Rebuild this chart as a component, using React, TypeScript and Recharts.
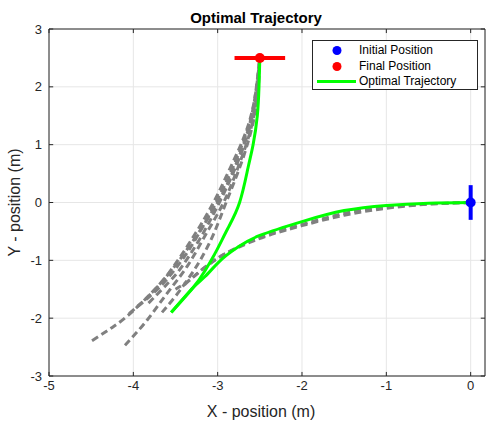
import React from 'react';
import {
  ComposedChart,
  Line,
  Scatter,
  XAxis,
  YAxis,
  CartesianGrid,
  ReferenceLine,
  Legend,
  Label,
} from 'recharts';

type Pt = [number, number];

// axis setup
const X_TICKS = [-5, -4, -3, -2, -1, 0];
const Y_TICKS = [-3, -2, -1, 0, 1, 2, 3];
const X_MIN = -5;
const X_MAX = 0.17;
const Y_MIN = -3;
const Y_MAX = 3;

// start / goal poses
const START: Pt = [0, 0];
const GOAL: Pt = [-2.5, 2.5];
const START_HEADING: Pt[] = [[0, -0.3], [0, 0.3]];
const GOAL_HEADING: Pt[] = [[-2.8, 2.5], [-2.2, 2.5]];

// optimal path: reverse out to the cusp...
const OPTIMAL_REV: Pt[] = [
  [0, 0], [-0.5, -0.012], [-1, -0.05], [-1.5, -0.14], [-2, -0.33], [-2.5, -0.57],
  [-2.75, -0.76], [-2.95, -0.98], [-3.15, -1.28], [-3.29, -1.47], [-3.55, -1.9],
];
// ...then drive forward to the goal
const OPTIMAL_FWD: Pt[] = [
  [-3.55, -1.9], [-3.29, -1.47], [-3.15, -1.18], [-3.02, -0.85], [-2.88, -0.45],
  [-2.74, 0.0], [-2.64, 0.6], [-2.58, 1.0], [-2.53, 1.5], [-2.51, 2.0], [-2.5, 2.5],
];

// earlier iterations (reverse leg)
const ITER_REV_1: Pt[] = [
  [0, 0], [-0.5, -0.025], [-1, -0.08], [-1.5, -0.19], [-2, -0.38], [-2.5, -0.6],
  [-2.8, -0.8], [-3.02, -0.98], [-3.2, -1.18], [-3.35, -1.36], [-3.5, -1.5],
];
const ITER_REV_2: Pt[] = [
  [0, 0], [-0.5, -0.03], [-1, -0.1], [-1.5, -0.22], [-2, -0.4], [-2.4, -0.57],
  [-2.7, -0.74], [-2.95, -0.92], [-3.15, -1.12], [-3.3, -1.3], [-3.42, -1.46],
];

// earlier iterations (forward leg)
const ITER_FWD_1: Pt[] = [
  [-4.49, -2.39], [-4.25, -2.16], [-4.0, -1.87], [-3.62, -1.3], [-3.3, -0.68],
  [-3.0, 0.0], [-2.8, 0.6], [-2.65, 1.2], [-2.56, 1.8], [-2.5, 2.5],
];
const ITER_FWD_2: Pt[] = [
  [-4.1, -2.47], [-3.84, -2.04], [-3.6, -1.57], [-3.36, -1.1], [-3.14, -0.55],
  [-2.93, 0.0], [-2.76, 0.6], [-2.62, 1.2], [-2.54, 1.8], [-2.5, 2.5],
];
const ITER_FWD_3: Pt[] = [
  [-4.05, -1.92], [-3.82, -1.62], [-3.58, -1.22], [-3.3, -0.62], [-3.05, 0.0],
  [-2.85, 0.6], [-2.67, 1.2], [-2.56, 1.8], [-2.5, 2.5],
];
const ITER_FWD_4: Pt[] = [
  [-3.82, -1.74], [-3.58, -1.38], [-3.42, -1.1], [-3.2, -0.6], [-2.98, 0.0],
  [-2.79, 0.6], [-2.64, 1.2], [-2.55, 1.8], [-2.5, 2.5],
];
const ITER_FWD_5: Pt[] = [
  [-3.66, -1.9], [-3.5, -1.62], [-3.34, -1.3], [-3.2, -0.98], [-3.05, -0.55],
  [-2.9, 0.0], [-2.74, 0.6], [-2.61, 1.2], [-2.53, 1.8], [-2.5, 2.5],
];
const ITER_FWD_6: Pt[] = [
  [-3.95, -1.8], [-3.7, -1.48], [-3.45, -1.05], [-3.24, -0.58], [-3.02, 0.0],
  [-2.82, 0.6], [-2.66, 1.2], [-2.55, 1.8], [-2.5, 2.5],
];

const ITERATIONS = [
  ITER_REV_1, ITER_REV_2,
  ITER_FWD_1, ITER_FWD_2, ITER_FWD_3, ITER_FWD_4, ITER_FWD_5, ITER_FWD_6,
];

const pts = (path: Pt[]) => path.map(([x, y]) => ({ x, y }));

const AXIS = '#262626';
const FONT = 'Arial, "Liberation Sans", Helvetica, sans-serif';
const TICK_DX = 0.05;
const TICK_DY = 0.07;

const Dot = (color: string) => (props: any) => (
  <circle cx={props.cx} cy={props.cy} r={5} fill={color} />
);

const YLabel = (props: any) => {
  const vb = props.viewBox;
  const cx = 14;
  const cy = vb.y + vb.height / 2;
  return (
    <text
      x={cx}
      y={cy}
      transform={`rotate(-90 ${cx} ${cy})`}
      textAnchor="middle"
      dominantBaseline="central"
      fontSize={16}
      fill={AXIS}
      fontFamily={FONT}
    >
      Y - position (m)
    </text>
  );
};

const LegendBox = () => {
  const rows = [
    { label: 'Initial Position', kind: 'dot', color: '#0000ff' },
    { label: 'Final Position', kind: 'dot', color: '#ff0000' },
    { label: 'Optimal Trajectory', kind: 'line', color: '#00ff00' },
  ];
  return (
    <div
      style={{
        width: 164,
        height: 48,
        border: `1px solid ${AXIS}`,
        background: '#fff',
        position: 'relative',
        fontFamily: FONT,
        fontSize: 12,
        color: '#000',
      }}
    >
      {rows.map((r, i) => (
        <div key={r.label} style={{ position: 'absolute', left: 0, top: 2 + i * 15.5, height: 15, width: 164 }}>
          <svg width={46} height={15} style={{ position: 'absolute', left: 0, top: 0 }}>
            {r.kind === 'dot' ? (
              <circle cx={24} cy={7.5} r={4.5} fill={r.color} />
            ) : (
              <line x1={4} x2={43} y1={7.5} y2={7.5} stroke={r.color} strokeWidth={3} />
            )}
          </svg>
          <span style={{ position: 'absolute', left: 46, top: 0, lineHeight: '15px', whiteSpace: 'nowrap' }}>{r.label}</span>
        </div>
      ))}
    </div>
  );
};

export default function App() {
  return (
    <div
      style={{
        position: 'absolute',
        left: 0,
        top: 0,
        width: 486,
        height: 422,
        background: '#fff',
        fontFamily: FONT,
      }}
    >
      <div
        style={{
          position: 'absolute',
          top: 9,
          left: 0,
          width: 512,
          textAlign: 'center',
          fontWeight: 'bold',
          fontSize: 15,
          lineHeight: '17px',
          color: '#000',
        }}
      >
        Optimal Trajectory
      </div>
      <ComposedChart width={486} height={422} margin={{ top: 29, right: 1, bottom: 0, left: 0 }}>
        <CartesianGrid stroke="#e6e6e6" strokeWidth={1} />
        <XAxis
          type="number"
          dataKey="x"
          domain={[X_MIN, X_MAX]}
          ticks={X_TICKS}
          allowDataOverflow
          height={46}
          tickLine={false}
          tickSize={0}
          tickMargin={5}
          axisLine={{ stroke: AXIS }}
          tick={{ fill: AXIS, fontSize: 13, fontFamily: FONT }}
        >
          <Label
            value="X - position (m)"
            position="insideBottom"
            offset={5}
            dx={-6}
            style={{ fill: AXIS, fontSize: 16, fontFamily: FONT }}
          />
        </XAxis>
        <YAxis
          type="number"
          dataKey="y"
          domain={[Y_MIN, Y_MAX]}
          ticks={Y_TICKS}
          allowDataOverflow
          width={49}
          tickLine={false}
          tickSize={0}
          tickMargin={7}
          axisLine={{ stroke: AXIS }}
          tick={{ fill: AXIS, fontSize: 13, fontFamily: FONT }}
        >
          <Label content={<YLabel />} />
        </YAxis>

        {/* box frame and inward ticks */}
        <ReferenceLine y={Y_MAX} stroke={AXIS} />
        <ReferenceLine x={X_MAX} stroke={AXIS} />
        {X_TICKS.map((t) => (
          <ReferenceLine key={`xb${t}`} segment={[{ x: t, y: Y_MIN }, { x: t, y: Y_MIN + TICK_DY }]} stroke={AXIS} />
        ))}
        {X_TICKS.map((t) => (
          <ReferenceLine key={`xt${t}`} segment={[{ x: t, y: Y_MAX }, { x: t, y: Y_MAX - TICK_DY }]} stroke={AXIS} />
        ))}
        {Y_TICKS.map((t) => (
          <ReferenceLine key={`yl${t}`} segment={[{ x: X_MIN, y: t }, { x: X_MIN + TICK_DX, y: t }]} stroke={AXIS} />
        ))}
        {Y_TICKS.map((t) => (
          <ReferenceLine key={`yr${t}`} segment={[{ x: X_MAX, y: t }, { x: X_MAX - TICK_DX, y: t }]} stroke={AXIS} />
        ))}

        {ITERATIONS.map((path, i) => (
          <Line
            key={`iter${i}`}
            data={pts(path)}
            dataKey="y"
            type="natural"
            stroke="#808080"
            strokeWidth={3}
            strokeDasharray="7 4"
            dot={false}
            legendType="none"
            isAnimationActive={false}
          />
        ))}
        {[OPTIMAL_REV, OPTIMAL_FWD].map((path, i) => (
          <Line
            key={`opt${i}`}
            data={pts(path)}
            dataKey="y"
            type="natural"
            stroke="#00ff00"
            strokeWidth={3}
            dot={false}
            legendType="none"
            isAnimationActive={false}
          />
        ))}
        <Line
          data={pts(GOAL_HEADING)}
          dataKey="y"
          type="linear"
          stroke="#ff0000"
          strokeWidth={4}
          dot={false}
          legendType="none"
          isAnimationActive={false}
        />
        <Line
          data={pts(START_HEADING)}
          dataKey="y"
          type="linear"
          stroke="#0000ff"
          strokeWidth={4}
          dot={false}
          legendType="none"
          isAnimationActive={false}
        />
        <Scatter data={pts([START])} fill="#0000ff" shape={Dot('#0000ff')} legendType="none" isAnimationActive={false} />
        <Scatter data={pts([GOAL])} fill="#ff0000" shape={Dot('#ff0000')} legendType="none" isAnimationActive={false} />

        <Legend
          layout="horizontal"
          align="center"
          verticalAlign="middle"
          content={<LegendBox />}
          wrapperStyle={{ position: 'absolute', left: 312, top: 40, width: 166, height: 50 }}
        />
      </ComposedChart>
    </div>
  );
}
